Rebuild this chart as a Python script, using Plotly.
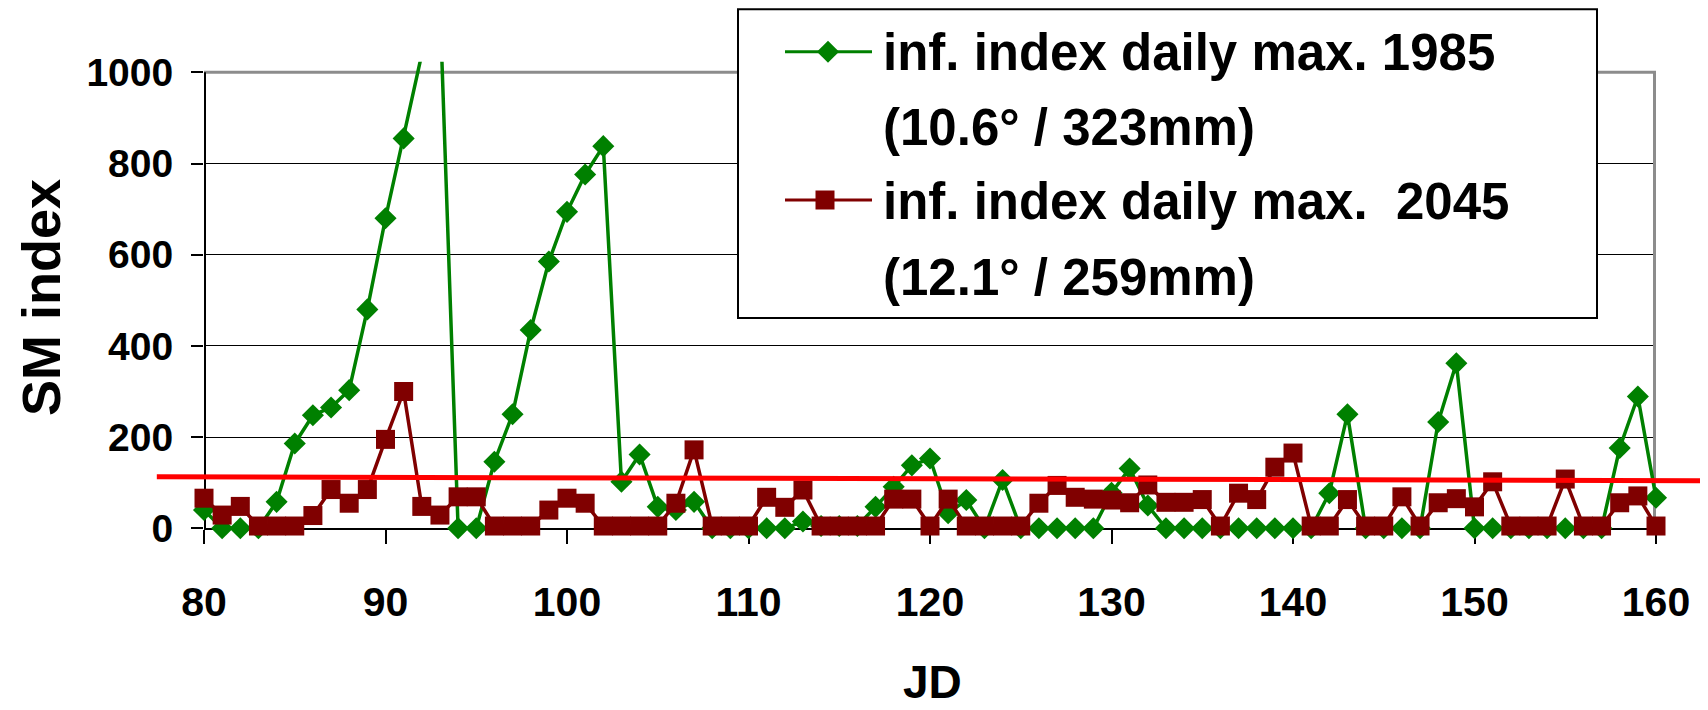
import plotly.graph_objects as go

# ---------------- data ----------------
days = list(range(80, 161))

index_1985 = [40, 0, 0, 0, 58, 186, 248, 265, 303, 480,
              680, 855, 1040, 1150, 0, 0, 146, 250, 435, 585,
              694, 776, 838, 102, 162, 47, 40, 58, 0, 0,
              0, 0, 0, 15, 5, 5, 5, 47, 91, 138,
              153, 33, 62, 0, 106, 0, 0, 0, 0, 0,
              78, 131, 50, 0, 0, 0, 0, 0, 0, 0,
              0, 0, 77, 250, 0, 0, 0, 0, 233, 362,
              0, 0, 0, 0, 0, 0, 0, 0, 176, 289,
              67]

index_2045 = [66, 29, 48, 5, 5, 5, 28, 85, 55, 85,
              195, 300, 48, 29, 69, 69, 5, 5, 5, 40,
              66, 55, 5, 5, 5, 5, 55, 172, 5, 5,
              5, 68, 46, 84, 5, 5, 5, 5, 64, 64,
              5, 64, 5, 5, 5, 5, 55, 94, 68, 64,
              62, 56, 95, 57, 57, 63, 5, 77, 63, 134,
              165, 5, 5, 63, 5, 5, 69, 5, 56, 65,
              47, 102, 5, 5, 5, 108, 5, 5, 56, 71,
              5]

threshold_days = [77.4, 162.7]
threshold_vals = [113, 104.5]

x_ticks = [80, 90, 100, 110, 120, 130, 140, 150, 160]
y_ticks = [0, 200, 400, 600, 800, 1000]

legend_label_1 = ["inf. index daily max. 1985", "(10.6° / 323mm)"]
legend_label_2 = ["inf. index daily max. \u00a02045", "(12.1° / 259mm)"]

# ---------------- geometry ----------------
# the page body has an 8px margin, so the figure is 8px smaller than the window
OFF = 8
W, H = 1708 - OFF, 710 - OFF

def fx(page_x):
    return page_x - OFF

def fy(page_y):
    return page_y - OFF

PX_X80, PX_X160 = fx(204.0), fx(1656.0)      # figure pixel x of day 80 / 160
PX_Y0, PX_Y1000 = fy(528.3), fy(72.3)        # figure pixel y of value 0 / 1000
PX_PER_DAY = (PX_X160 - PX_X80) / 80.0
PX_PER_UNIT = (PX_Y0 - PX_Y1000) / 1000.0
Y_TOP = 1023.0                               # lines clip slightly above the frame

def day_of(px):
    return 80 + (px - PX_X80) / PX_PER_DAY

def val_of(py):
    return (PX_Y0 - py) / PX_PER_UNIT

GREEN = "#008000"
MAROON = "#800000"
FONT = "Liberation Sans, Arial, sans-serif"

fig = go.Figure()

fig.add_trace(go.Scatter(
    x=days, y=index_1985, mode="lines+markers", name=legend_label_1[0],
    line=dict(color=GREEN, width=3.5),
    marker=dict(symbol="diamond", size=17, color=GREEN, line=dict(width=0)),
    cliponaxis=False, showlegend=False))

fig.add_trace(go.Scatter(
    x=days, y=index_2045, mode="lines+markers", name=legend_label_2[0],
    line=dict(color=MAROON, width=3.5),
    marker=dict(symbol="square", size=19, color=MAROON, line=dict(width=0)),
    cliponaxis=False, showlegend=False))

# threshold line, drawn on a full-page overlay axis pair using the same day/value scale
fig.add_trace(go.Scatter(
    x=threshold_days, y=threshold_vals, mode="lines",
    line=dict(color="#FF0000", width=5), xaxis="x2", yaxis="y2",
    showlegend=False, hoverinfo="skip"))

# legend markers (overlay axes)
leg_line_x0, leg_line_x1 = fx(785), fx(872)
leg_rows = [fy(51.7), fy(200.0)]
fig.add_trace(go.Scatter(
    x=[day_of(fx(828))], y=[val_of(leg_rows[0])], mode="markers",
    marker=dict(symbol="diamond", size=17, color=GREEN),
    xaxis="x2", yaxis="y2", showlegend=False, hoverinfo="skip"))
fig.add_trace(go.Scatter(
    x=[day_of(fx(825))], y=[val_of(leg_rows[1])], mode="markers",
    marker=dict(symbol="square", size=19, color=MAROON),
    xaxis="x2", yaxis="y2", showlegend=False, hoverinfo="skip"))

shapes = []
# plot frame (gray top and right)
shapes.append(dict(type="line", xref="x", yref="y", x0=80, x1=160, y0=1000, y1=1000,
                   line=dict(color="#8c8c8c", width=3), layer="between"))
shapes.append(dict(type="line", xref="x", yref="y", x0=160, x1=160, y0=0, y1=1000,
                   line=dict(color="#8c8c8c", width=6), layer="between"))
# y axis line (stops at 1000)
shapes.append(dict(type="line", xref="x", yref="y", x0=80, x1=80, y0=0, y1=1000,
                   line=dict(color="black", width=4), layer="between"))
# legend box and line samples
shapes.append(dict(type="rect", xref="x2", yref="y2",
                   x0=day_of(fx(738)), x1=day_of(fx(1597)), y0=val_of(fy(318)), y1=val_of(1.2),
                   line=dict(color="black", width=2), fillcolor="white", layer="below"))
shapes.append(dict(type="line", xref="x2", yref="y2",
                   x0=day_of(leg_line_x0), x1=day_of(leg_line_x1),
                   y0=val_of(leg_rows[0]), y1=val_of(leg_rows[0]),
                   line=dict(color=GREEN, width=3), layer="below"))
shapes.append(dict(type="line", xref="x2", yref="y2",
                   x0=day_of(leg_line_x0), x1=day_of(leg_line_x1),
                   y0=val_of(leg_rows[1]), y1=val_of(leg_rows[1]),
                   line=dict(color=MAROON, width=3), layer="below"))

annotations = []
LEG_SIZE = 51
leg_text_rows = [(legend_label_1[0], 56), (legend_label_1[1], 131),
                 (legend_label_2[0], 205), (legend_label_2[1], 281)]
for txt, py in leg_text_rows:
    annotations.append(dict(text=txt, xref="paper", yref="paper",
                            x=fx(881.0) / W, y=1 - (fy(py) - 3.5) / H,
                            xanchor="left", yanchor="middle", showarrow=False,
                            font=dict(family=FONT, size=LEG_SIZE, color="black", weight="bold")))
annotations.append(dict(text="JD", xref="paper", yref="paper",
                        x=fx(932.5) / W, y=1 - 674 / H,
                        xanchor="center", yanchor="middle", showarrow=False,
                        font=dict(family=FONT, size=46, color="black", weight="bold")))
annotations.append(dict(text="SM index", xref="paper", yref="paper",
                        x=33 / W, y=1 - fy(298) / H,
                        xanchor="center", yanchor="middle", showarrow=False, textangle=-90,
                        font=dict(family=FONT, size=54, color="black", weight="bold")))

fig.update_layout(
    width=W, height=H,
    margin=dict(l=0, r=0, t=0, b=0, autoexpand=False),
    paper_bgcolor="white", plot_bgcolor="rgba(0,0,0,0)",
    showlegend=False,
    shapes=shapes, annotations=annotations,
    xaxis=dict(domain=[PX_X80 / W, PX_X160 / W], range=[80, 160], automargin=False,
               tickmode="array", tickvals=x_ticks, ticktext=[str(t) for t in x_ticks],
               ticks="outside", ticklen=14, tickwidth=2, tickcolor="black",
               showline=True, linecolor="black", linewidth=2, layer="below traces",
               showgrid=False, zeroline=False, ticklabelstandoff=22,
               tickfont=dict(family=FONT, size=41, color="black", weight="bold")),
    yaxis=dict(domain=[1 - PX_Y0 / H, 1 - (PX_Y0 - Y_TOP * PX_PER_UNIT) / H],
               range=[0, Y_TOP], automargin=False,
               tickmode="array", tickvals=y_ticks, ticktext=[str(t) for t in y_ticks],
               ticks="outside", ticklen=12, tickwidth=2, tickcolor="black",
               showline=False, showgrid=True, gridcolor="black", gridwidth=1,
               zeroline=False, ticklabelstandoff=10,
               tickfont=dict(family=FONT, size=39, color="black", weight="bold")),
    xaxis2=dict(domain=[0, 1], range=[day_of(0), day_of(W)], visible=False,
                anchor="y2", fixedrange=True, automargin=False),
    yaxis2=dict(domain=[0, 1], range=[val_of(H), val_of(0)], visible=False,
                anchor="x2", fixedrange=True, automargin=False),
)

fig.write_html("out.html")
